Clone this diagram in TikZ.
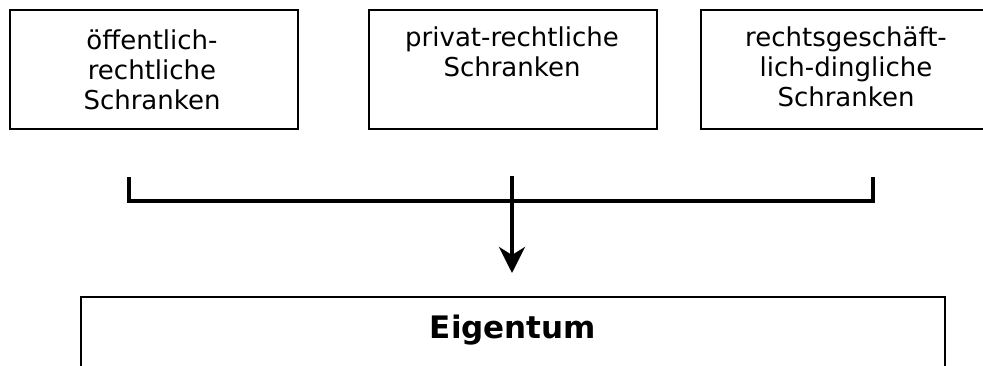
\documentclass[tikz,border=0pt]{standalone}
\usepackage{fontspec}
\setmainfont{DejaVu Sans}
\usetikzlibrary{arrows.meta}
\begin{document}
\begin{tikzpicture}[x=1pt,y=-1pt,
  box/.style={draw=black,line width=2pt,minimum width=288pt,minimum height=119pt,inner sep=0pt},
  lbl/.style={align=center,inner sep=0pt,font=\fontsize{26}{30}\selectfont},
  bracket/.style={draw=black,line width=4pt},
  arr/.style={draw=black,line width=4pt,-{Stealth[length=26pt,width=26pt,inset=8pt]}}]
\clip (0,0) rectangle (983,365);
\fill[white] (0,0) rectangle (983,365);
% top boxes
\node[box] (b1) at (153.5,69.5) {};
\node[box] (b2) at (513,69.5) {};
\node[box] (b3) at (845,69.5) {};
\node[lbl,anchor=north] (t1) at (152,29.5) {öffentlich-\\rechtliche\\Schranken};
\node[lbl,anchor=north] (t2) at (512,27) {privat-rechtliche\\Schranken};
\node[lbl,anchor=north] (t3) at (846,27) {rechtsgeschäft-\\lich-dingliche\\Schranken};
% bottom box
\node[draw=black,line width=2pt,minimum width=864pt,minimum height=140pt,anchor=north,inner sep=0pt] (eig) at (513,296) {};
\node[font=\bfseries\fontsize{31}{36}\selectfont,anchor=base,inner sep=0pt] (et) at (513,338) {Eigentum};
% bracket
\coordinate (bl) at (129,177);
\coordinate (br) at (873,177);
\coordinate (h) at (0,201);
\coordinate (bm) at (512,176);
\coordinate (tip) at (512,273);
\draw[bracket] (bl) -- (bl|-h) -- (br|-h) -- (br);
\draw[arr] (bm) -- (tip);
\end{tikzpicture}
\end{document}
